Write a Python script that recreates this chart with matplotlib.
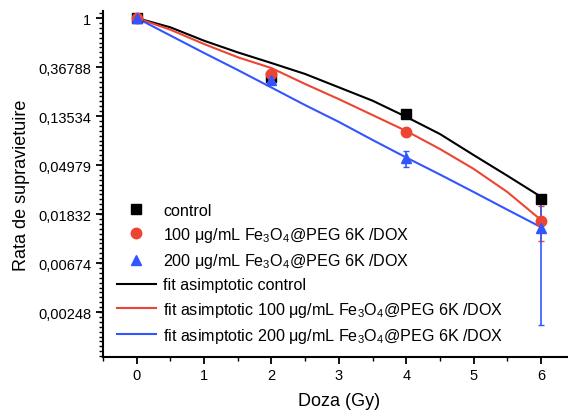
import numpy as np
import matplotlib
matplotlib.use("Agg")
from matplotlib import pyplot as plt
from matplotlib.lines import Line2D
from matplotlib.ticker import FixedLocator, FixedFormatter

plt.rcParams['font.family'] = ['Liberation Sans', 'DejaVu Sans']
plt.rcParams['mathtext.fontset'] = 'custom'
plt.rcParams['mathtext.rm'] = 'Liberation Sans'
plt.rcParams['mathtext.it'] = 'Liberation Sans'
plt.rcParams['mathtext.default'] = 'regular'

# measured points
doza = [0, 2, 4, 6]
control = [1.0, 0.30, 0.141, 0.025]
control_err = [0.0, 0.0, 0.0, 0.0]
c100 = [1.0, 0.32, 0.097, 0.016]
c100_err = [0.0, 0.0, 0.0, 0.0055]
c200 = [1.0, 0.28, 0.057, 0.0137]
c200_err = [0.0, 0.0, 0.009, 0.0118]

# fit curves
fit_x = [0, 0.5, 1, 1.5, 2, 2.5, 3, 3.5, 4, 4.5, 5, 5.5, 6]
fit_control = [1.0, 0.827, 0.629, 0.496, 0.399, 0.319, 0.243, 0.185, 0.133, 0.0937, 0.061, 0.040, 0.026]
fit_100 = [1.0, 0.788, 0.588, 0.449, 0.360, 0.260, 0.191, 0.138, 0.0997, 0.069, 0.046, 0.0287, 0.0162]
fit_200 = [1.0, 0.70, 0.49, 0.346, 0.242, 0.169, 0.120, 0.083, 0.058, 0.041, 0.0287, 0.020, 0.014]

y_ticks = [1, 0.36788, 0.13534, 0.04979, 0.01832, 0.00674, 0.00248]
y_labels = ['1', '0,36788', '0,13534', '0,04979', '0,01832', '0,00674', '0,00248']

red = '#ee4433'
blue = '#3355ff'
lab100 = '100 \u03bcg/mL Fe$_3$O$_4$@PEG 6K /DOX'
lab200 = '200 \u03bcg/mL Fe$_3$O$_4$@PEG 6K /DOX'

fig = plt.figure(figsize=(5.68, 4.14), dpi=100)
ax = fig.add_axes([0.1813, 0.135, 0.8306, 0.836])

l1, = ax.plot(fit_x, fit_control, color='black', lw=1.5)
l2, = ax.plot(fit_x, fit_100, color=red, lw=1.5)
l3, = ax.plot(fit_x, fit_200, color=blue, lw=1.5)

ax.errorbar(doza, control, yerr=control_err, fmt='s', color='black', ms=7,
            capsize=2.5, elinewidth=1.2)
ax.errorbar(doza, c100, yerr=c100_err, fmt='o', color=red, ms=7.5,
            capsize=2.5, elinewidth=1.2)
ax.errorbar(doza, c200, yerr=c200_err, fmt='^', color=blue, ms=7.5,
            capsize=2.5, elinewidth=1.2)

ax.set_yscale('log')
ax.set_ylim(np.exp(-6.92), np.exp(0.143))
ax.set_xlim(-0.5, 6.5)

ax.yaxis.set_major_locator(FixedLocator(y_ticks))
ax.yaxis.set_major_formatter(FixedFormatter(y_labels))
ax.yaxis.set_minor_locator(FixedLocator(np.exp(np.arange(-7.0, 0.3, 0.1))))
ax.yaxis.set_minor_formatter(FixedFormatter([]))
ax.set_xticks(range(7))
ax.set_xticks(np.arange(-0.5, 6.6, 0.5), minor=True)

for s in ['top', 'right']:
    ax.spines[s].set_visible(False)
for s in ['left', 'bottom']:
    ax.spines[s].set_linewidth(1.5)
ax.tick_params(which='major', direction='out', length=5, width=1.3, labelsize=10.5)
ax.tick_params(axis='x', which='major', pad=3)
ax.tick_params(which='minor', direction='out', length=3, width=1.0)

ax.set_xlabel('Doza (Gy)', fontsize=13, labelpad=7)
ax.set_ylabel('Rata de supravietuire', fontsize=13, labelpad=6)

# legend handles without error bars
h1 = Line2D([], [], ls='none', marker='s', color='black', ms=7)
h2 = Line2D([], [], ls='none', marker='o', color=red, ms=7.5)
h3 = Line2D([], [], ls='none', marker='^', color=blue, ms=7.5)

ax.legend([h1, h2, h3, l1, l2, l3],
          ['control', lab100, lab200, 'fit asimptotic control',
           'fit asimptotic ' + lab100, 'fit asimptotic ' + lab200],
          loc='lower left', bbox_to_anchor=(0.03, 0.035), frameon=False,
          fontsize=11.6, handlelength=2.4, handletextpad=0.45,
          labelspacing=0.45, borderpad=0, borderaxespad=0)

fig.savefig('out.png', dpi=100)
